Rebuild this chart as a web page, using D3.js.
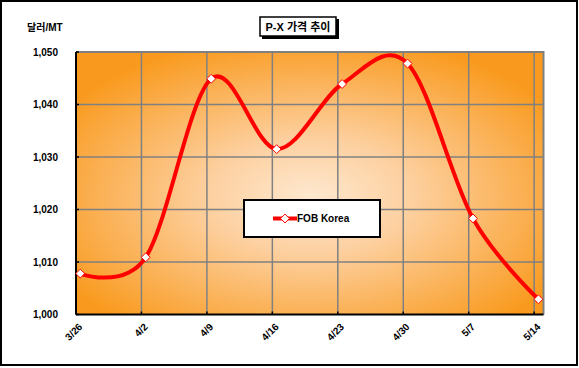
<!DOCTYPE html>
<html>
<head>
<meta charset="utf-8">
<script src="https://cdn.jsdelivr.net/npm/d3@7"></script>
<style>
  body { margin: 0; background: #fff; }
  svg { display: block; }
  text { font-family: Arial, "Liberation Sans", "Noto Sans CJK KR", sans-serif; font-weight: bold; fill: #000; }
</style>
</head>
<body>
<svg id="chart" width="579" height="368"></svg>
<script>
// data
var dates = ["2010-03-26", "2010-04-02", "2010-04-09", "2010-04-16", "2010-04-23", "2010-04-30", "2010-05-07", "2010-05-14"];
var tickLabels = ["3/26", "4/2", "4/9", "4/16", "4/23", "4/30", "5/7", "5/14"];
var fobKorea = [1007.8, 1010.9, 1044.9, 1031.5, 1043.9, 1047.8, 1018.3, 1002.9];
var yTicks = [1000, 1010, 1020, 1030, 1040, 1050];

var parse = d3.timeParse("%Y-%m-%d");
var margin = { top: 52, left: 76, right: 35.5, bottom: 53.5 };

var svg = d3.select("#chart");
var width = 579, height = 368;
var plotW = width - margin.left - margin.right;
var plotH = height - margin.top - margin.bottom;

// outer frame
svg.append("rect")
    .attr("x", 1).attr("y", 1)
    .attr("width", width - 3).attr("height", height - 4)
    .attr("fill", "#fff").attr("stroke", "#000").attr("stroke-width", 2);

var x = d3.scaleTime()
    .domain([parse("2010-03-26"), parse("2010-05-15")])
    .range([0, plotW]);
var y = d3.scaleLinear().domain([1000, 1050]).range([plotH, 0]);

var defs = svg.append("defs");
var grad = defs.append("radialGradient")
    .attr("id", "bg").attr("cx", "0.5").attr("cy", "0.55").attr("r", "0.62");
grad.append("stop").attr("offset", "0").attr("stop-color", "#fee8cf");
grad.append("stop").attr("offset", "0.35").attr("stop-color", "#fdd0a0");
grad.append("stop").attr("offset", "1").attr("stop-color", "#f99a1e");

var g = svg.append("g")
    .attr("transform", "translate(" + margin.left + "," + margin.top + ")");

g.append("rect")
    .attr("width", plotW).attr("height", plotH)
    .attr("fill", "url(#bg)");

// gridlines
g.selectAll(".hgrid")
    .data(yTicks.slice(1, -1))
    .enter().append("line")
    .attr("x1", 0).attr("x2", plotW)
    .attr("y1", function (d) { return y(d); })
    .attr("y2", function (d) { return y(d); })
    .attr("stroke", "#808080").attr("stroke-width", 1.5);

var tickDates = dates.map(parse);
g.selectAll(".vgrid")
    .data(tickDates.slice(1))
    .enter().append("line")
    .attr("x1", function (d) { return x(d); })
    .attr("x2", function (d) { return x(d); })
    .attr("y1", 0).attr("y2", plotH)
    .attr("stroke", "#808080").attr("stroke-width", 1.5);

// plot border top/right in gray
g.append("path")
    .attr("d", "M0,0H" + plotW + "V" + plotH)
    .attr("fill", "none").attr("stroke", "#808080").attr("stroke-width", 2);

// axes
g.append("line").attr("x1", 0).attr("x2", 0).attr("y1", 0).attr("y2", plotH)
    .attr("stroke", "#000").attr("stroke-width", 2);
g.append("line").attr("x1", 0).attr("x2", plotW).attr("y1", plotH).attr("y2", plotH)
    .attr("stroke", "#000").attr("stroke-width", 2);

g.selectAll(".ytick")
    .data(yTicks)
    .enter().append("line")
    .attr("x1", 0).attr("x2", 3)
    .attr("y1", function (d) { return y(d); })
    .attr("y2", function (d) { return y(d); })
    .attr("stroke", "#000").attr("stroke-width", 1.5);

g.selectAll(".ylab")
    .data(yTicks)
    .enter().append("text")
    .attr("x", -18)
    .attr("y", function (d) { return y(d); })
    .attr("dy", "0.35em")
    .attr("text-anchor", "end")
    .style("font-size", "10px")
    .text(d3.format(","));

g.selectAll(".xtick")
    .data(tickDates)
    .enter().append("line")
    .attr("x1", function (d) { return x(d); })
    .attr("x2", function (d) { return x(d); })
    .attr("y1", plotH).attr("y2", plotH - 3)
    .attr("stroke", "#000").attr("stroke-width", 1.5);

g.selectAll(".xlab")
    .data(tickDates)
    .enter().append("text")
    .attr("text-anchor", "end")
    .attr("transform", function (d) {
        return "translate(" + (x(d) + 7) + "," + (plotH + 13) + ") rotate(-45)";
    })
    .style("font-size", "10px")
    .text(function (d, i) { return tickLabels[i]; });

// series: values sit at noon of each date
var pts = dates.map(function (d, i) {
    return { t: d3.timeHour.offset(parse(d), 11), v: fobKorea[i] };
});
var line = d3.line()
    .x(function (d) { return x(d.t); })
    .y(function (d) { return y(d.v); })
    .curve(d3.curveCardinal.tension(0));

g.append("path")
    .datum(pts)
    .attr("d", line)
    .attr("fill", "none").attr("stroke", "#ff0000").attr("stroke-width", 4);

var diamond = d3.symbol().type(d3.symbolDiamond2).size(50);
g.selectAll(".pt")
    .data(pts)
    .enter().append("path")
    .attr("d", diamond)
    .attr("transform", function (d) { return "translate(" + x(d.t) + "," + y(d.v) + ") rotate(0)"; })
    .attr("fill", "#fff").attr("stroke", "#ff0000").attr("stroke-width", 1);

// unit label
svg.append("text")
    .attr("x", 27).attr("y", 31)
    .style("font-size", "10px")
    .text("달러/MT");

// title with shadow box
svg.append("rect").attr("x", 262).attr("y", 19).attr("width", 77).attr("height", 20).attr("fill", "#000");
svg.append("rect").attr("x", 260).attr("y", 17).attr("width", 76).attr("height", 19)
    .attr("fill", "#fff").attr("stroke", "#000").attr("stroke-width", 1.5);
svg.append("text")
    .attr("x", 298).attr("y", 31)
    .attr("text-anchor", "middle")
    .style("font-size", "11px")
    .text("P-X 가격 추이");

// legend
var leg = svg.append("g").attr("transform", "translate(244,200)");
leg.append("rect")
    .attr("width", 136).attr("height", 37)
    .attr("fill", "#fff").attr("stroke", "#000").attr("stroke-width", 2);
leg.append("line")
    .attr("x1", 29).attr("x2", 53).attr("y1", 18.5).attr("y2", 18.5)
    .attr("stroke", "#ff0000").attr("stroke-width", 4);
leg.append("path")
    .attr("d", diamond)
    .attr("transform", "translate(41,18.5)")
    .attr("fill", "#fff").attr("stroke", "#ff0000").attr("stroke-width", 1);
leg.append("text")
    .attr("x", 53).attr("y", 22)
    .style("font-size", "10px")
    .text("FOB Korea");
</script>
</body>
</html>
